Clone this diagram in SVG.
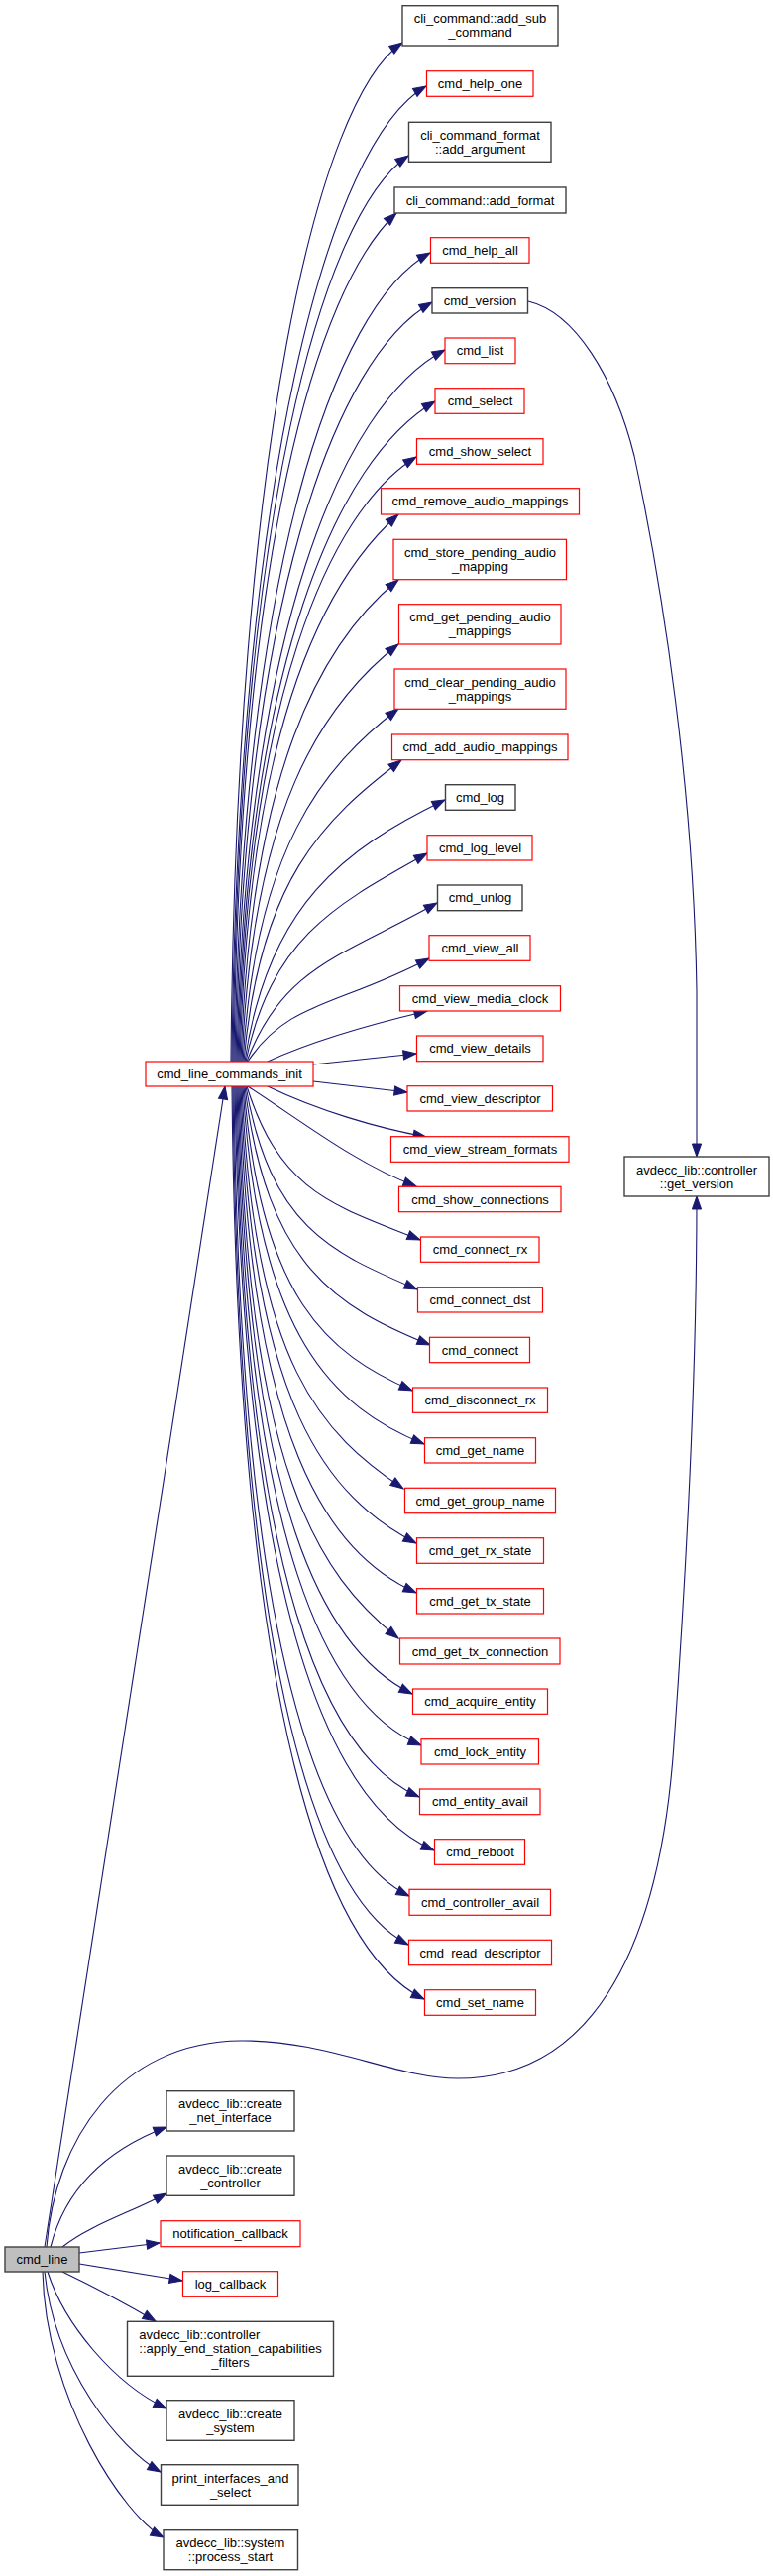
<svg xmlns="http://www.w3.org/2000/svg" width="780" height="2599" viewBox="0 0 780 2599">
<style>
.e{fill:none;stroke:#191970;stroke-width:1.1;marker-end:url(#ah)}
.r{fill:#fff;stroke:#ff0000;stroke-width:1.2}
.b{fill:#fff;stroke:#404040;stroke-width:1.4}
.g{fill:#bfbfbf;stroke:#404040;stroke-width:1.4}
text{font-family:"Liberation Sans",Arial,Helvetica,sans-serif;font-size:13px;fill:#000;text-anchor:middle}
.l{text-anchor:start}
</style>
<defs>
<marker id="ah" markerUnits="userSpaceOnUse" markerWidth="16" markerHeight="12" refX="13" refY="5" orient="auto" overflow="visible">
<path d="M0,0.4 L13,5 L0,9.6 Z" fill="#191970" stroke="#191970" stroke-width="1"/>
</marker>
</defs>
<rect width="780" height="2599" fill="#fff"/>
<g id="connectors">
<path class="e" d="M233,1071 C238,454 320,101 406,43"/>
<path class="e" d="M234,1071 C240,480 332,143 430,87"/>
<path class="e" d="M235,1071 C241,523 324,217 412,157"/>
<path class="e" d="M236,1071 C242,557 318,292 400,215"/>
<path class="e" d="M237,1071 C244,581 336,309 434,255"/>
<path class="e" d="M238,1071 C246,611 337,361 436,305"/>
<path class="e" d="M239,1071 C248,640 344,408 449,353"/>
<path class="e" d="M240,1071 C249,671 340,463 439,405"/>
<path class="e" d="M241,1071 C250,705 331,516 420,461"/>
<path class="e" d="M242,1071 C251,740 322,590 402,519"/>
<path class="e" d="M243,1071 C253,779 323,649 402,585"/>
<path class="e" d="M244,1071 C255,818 323,712 402,650"/>
<path class="e" d="M245,1071 C258,858 324,775 402,715"/>
<path class="e" d="M246,1071 C262,888 326,827 405,767"/>
<path class="e" d="M247,1071 C270,913 348,856 449,807"/>
<path class="e" d="M248,1071 C274,945 340,912 431,861"/>
<path class="e" d="M249,1071 C285,975 345,965 441,911"/>
<path class="e" d="M250,1071 C290,1010 342,1015 433,967"/>
<path class="e" d="M270,1071 C320,1048 380,1032 431,1020"/>
<path class="e" d="M316,1074 L420,1063"/>
<path class="e" d="M316,1091 L411,1102"/>
<path class="e" d="M270,1096 C320,1120 380,1138 430,1147"/>
<path class="e" d="M250,1096 C300,1128 360,1175 420,1197"/>
<path class="e" d="M249,1096 C283,1204 337,1216 424,1251"/>
<path class="e" d="M248,1096 C273,1239 335,1264 421,1301"/>
<path class="e" d="M247,1096 C269,1279 341,1319 434,1357"/>
<path class="e" d="M246,1096 C263,1311 331,1366 416,1403"/>
<path class="e" d="M245,1096 C260,1349 337,1420 428,1457"/>
<path class="e" d="M244,1096 C256,1380 326,1447 407,1502"/>
<path class="e" d="M243,1096 C254,1419 331,1511 420,1557"/>
<path class="e" d="M242,1096 C252,1454 331,1567 420,1607"/>
<path class="e" d="M241,1096 C250,1486 322,1589 402,1653"/>
<path class="e" d="M240,1096 C249,1525 328,1666 416,1709"/>
<path class="e" d="M239,1096 C247,1561 332,1723 425,1761"/>
<path class="e" d="M238,1096 C246,1598 331,1773 423,1813"/>
<path class="e" d="M237,1096 C245,1636 338,1824 438,1867"/>
<path class="e" d="M236,1096 C242,1668 324,1870 413,1913"/>
<path class="e" d="M235,1096 C241,1702 324,1917 412,1962"/>
<path class="e" d="M234,1096 C240,1741 331,1970 428,2017"/>
<path class="e" d="M533,304 C580,315 620,380 640,460 C670,600 700,800 703,1000 L703,1167"/>
<path class="e" d="M45,2267 L227,1096"/>
<path class="e" d="M47,2267 C55,2160 120,2060 243,2059 C330,2058 400,2097 462,2097 C590,2097 665,1980 680,1760 C695,1550 703,1350 703,1207"/>
<path class="e" d="M51,2267 C68,2200 118,2165 168,2146"/>
<path class="e" d="M63,2267 C90,2245 135,2231 168,2213"/>
<path class="e" d="M80,2273 L161,2263"/>
<path class="e" d="M80,2284 L184,2301"/>
<path class="e" d="M63,2292 C90,2305 130,2326 157,2342"/>
<path class="e" d="M48,2292 C65,2345 115,2405 168,2430"/>
<path class="e" d="M45,2292 C55,2390 120,2470 162,2494"/>
<path class="e" d="M43,2292 C46,2420 125,2539 165,2560"/>
</g>
<g id="cmd_line"><rect class="g" x="5" y="2267" width="75" height="25"/><text x="42.5" y="2284">cmd_line</text></g>
<g id="cmd_line_commands_init"><rect class="r" x="147" y="1071" width="169" height="25"/><text x="231.5" y="1088">cmd_line_commands_init</text></g>
<g id="get_version"><rect class="b" x="630" y="1167" width="146" height="40"/><text x="703" y="1184.5">avdecc_lib::controller</text><text x="703" y="1198.5">::get_version</text></g>
<g id="add_sub_command"><rect class="b" x="406" y="5.7" width="157" height="40.3"/><text x="484.5" y="23.3">cli_command::add_sub</text><text x="484.5" y="37.3">_command</text></g>
<g id="cmd_help_one"><rect class="r" x="430.5" y="71.7" width="107.5" height="25.6"/><text x="484.5" y="89">cmd_help_one</text></g>
<g id="add_argument"><rect class="b" x="412.5" y="123.3" width="143.5" height="40"/><text x="484.5" y="140.8">cli_command_format</text><text x="484.5" y="154.8">::add_argument</text></g>
<g id="add_format"><rect class="b" x="398" y="189" width="173" height="26"/><text x="484.5" y="206.5">cli_command::add_format</text></g>
<g id="cmd_help_all"><rect class="r" x="434.5" y="239.7" width="99.5" height="25.6"/><text x="484.5" y="257">cmd_help_all</text></g>
<g id="cmd_version"><rect class="b" x="436" y="290.7" width="96.5" height="25.3"/><text x="484.5" y="307.9">cmd_version</text></g>
<g id="cmd_list"><rect class="r" x="449" y="341" width="71" height="25.7"/><text x="484.5" y="358.4">cmd_list</text></g>
<g id="cmd_select"><rect class="r" x="439" y="391.7" width="90" height="25.6"/><text x="484.5" y="409">cmd_select</text></g>
<g id="cmd_show_select"><rect class="r" x="420.5" y="442.7" width="127.5" height="25.6"/><text x="484.5" y="460">cmd_show_select</text></g>
<g id="cmd_remove_audio_mappings"><rect class="r" x="384.5" y="492.7" width="200" height="26.3"/><text x="484.5" y="510.4">cmd_remove_audio_mappings</text></g>
<g id="cmd_store_pending_audio_mapping"><rect class="r" x="397" y="544.3" width="174.5" height="40.4"/><text x="484.5" y="562">cmd_store_pending_audio</text><text x="484.5" y="576">_mapping</text></g>
<g id="cmd_get_pending_audio_mappings"><rect class="r" x="402.5" y="609.7" width="163.5" height="40.3"/><text x="484.5" y="627.3">cmd_get_pending_audio</text><text x="484.5" y="641.3">_mappings</text></g>
<g id="cmd_clear_pending_audio_mappings"><rect class="r" x="398" y="675" width="173" height="40.3"/><text x="484.5" y="692.6">cmd_clear_pending_audio</text><text x="484.5" y="706.6">_mappings</text></g>
<g id="cmd_add_audio_mappings"><rect class="r" x="395.5" y="741" width="177.5" height="25.7"/><text x="484.5" y="758.4">cmd_add_audio_mappings</text></g>
<g id="cmd_log"><rect class="b" x="449.5" y="791.7" width="70.5" height="25.6"/><text x="484.5" y="809">cmd_log</text></g>
<g id="cmd_log_level"><rect class="r" x="431" y="842.7" width="106" height="25.3"/><text x="484.5" y="859.9">cmd_log_level</text></g>
<g id="cmd_unlog"><rect class="b" x="441.5" y="893" width="85.5" height="25.7"/><text x="484.5" y="910.4">cmd_unlog</text></g>
<g id="cmd_view_all"><rect class="r" x="433" y="943.7" width="102" height="25.6"/><text x="484.5" y="961">cmd_view_all</text></g>
<g id="cmd_view_media_clock"><rect class="r" x="403.5" y="994.7" width="162" height="25.3"/><text x="484.5" y="1011.9">cmd_view_media_clock</text></g>
<g id="cmd_view_details"><rect class="r" x="420.5" y="1045" width="127.5" height="25.7"/><text x="484.5" y="1062.4">cmd_view_details</text></g>
<g id="cmd_view_descriptor"><rect class="r" x="411" y="1095.7" width="146.5" height="25.3"/><text x="484.5" y="1112.9">cmd_view_descriptor</text></g>
<g id="cmd_view_stream_formats"><rect class="r" x="394.5" y="1146.7" width="179.5" height="25.6"/><text x="484.5" y="1164">cmd_view_stream_formats</text></g>
<g id="cmd_show_connections"><rect class="r" x="402.5" y="1197.3" width="163.5" height="25.4"/><text x="484.5" y="1214.5">cmd_show_connections</text></g>
<g id="cmd_connect_rx"><rect class="r" x="424.5" y="1248" width="119.5" height="25.3"/><text x="484.5" y="1265.2">cmd_connect_rx</text></g>
<g id="cmd_connect_dst"><rect class="r" x="421.5" y="1298.7" width="126" height="25.3"/><text x="484.5" y="1315.9">cmd_connect_dst</text></g>
<g id="cmd_connect"><rect class="r" x="433.5" y="1349.3" width="101" height="25.4"/><text x="484.5" y="1366.5">cmd_connect</text></g>
<g id="cmd_disconnect_rx"><rect class="r" x="416.5" y="1400" width="136" height="25.3"/><text x="484.5" y="1417.2">cmd_disconnect_rx</text></g>
<g id="cmd_get_name"><rect class="r" x="428.5" y="1450.7" width="112" height="25.3"/><text x="484.5" y="1467.9">cmd_get_name</text></g>
<g id="cmd_get_group_name"><rect class="r" x="408.5" y="1501.3" width="152" height="25.4"/><text x="484.5" y="1518.5">cmd_get_group_name</text></g>
<g id="cmd_get_rx_state"><rect class="r" x="420.5" y="1551.7" width="128" height="25.6"/><text x="484.5" y="1569">cmd_get_rx_state</text></g>
<g id="cmd_get_tx_state"><rect class="r" x="420.5" y="1602.7" width="128" height="25.3"/><text x="484.5" y="1619.9">cmd_get_tx_state</text></g>
<g id="cmd_get_tx_connection"><rect class="r" x="403.5" y="1653" width="161.5" height="26"/><text x="484.5" y="1670.5">cmd_get_tx_connection</text></g>
<g id="cmd_acquire_entity"><rect class="r" x="416.5" y="1704" width="136" height="25.3"/><text x="484.5" y="1721.2">cmd_acquire_entity</text></g>
<g id="cmd_lock_entity"><rect class="r" x="425" y="1754.7" width="118.5" height="25.3"/><text x="484.5" y="1771.9">cmd_lock_entity</text></g>
<g id="cmd_entity_avail"><rect class="r" x="423.5" y="1805" width="121.5" height="25.7"/><text x="484.5" y="1822.4">cmd_entity_avail</text></g>
<g id="cmd_reboot"><rect class="r" x="438.5" y="1855.7" width="91" height="25.6"/><text x="484.5" y="1873">cmd_reboot</text></g>
<g id="cmd_controller_avail"><rect class="r" x="413" y="1906.3" width="142.5" height="26"/><text x="484.5" y="1923.8">cmd_controller_avail</text></g>
<g id="cmd_read_descriptor"><rect class="r" x="412.5" y="1957.3" width="144" height="25.4"/><text x="484.5" y="1974.5">cmd_read_descriptor</text></g>
<g id="cmd_set_name"><rect class="r" x="428.5" y="2007.7" width="112" height="25.6"/><text x="484.5" y="2025">cmd_set_name</text></g>
<g id="create_net_interface"><rect class="b" x="168" y="2109.7" width="129" height="40.3"/><text x="232.5" y="2127.3">avdecc_lib::create</text><text x="232.5" y="2141.3">_net_interface</text></g>
<g id="create_controller"><rect class="b" x="168" y="2175" width="129" height="40.3"/><text x="232.5" y="2192.6">avdecc_lib::create</text><text x="232.5" y="2206.6">_controller</text></g>
<g id="notification_callback"><rect class="r" x="162" y="2240.7" width="141" height="26"/><text x="232.5" y="2258.2">notification_callback</text></g>
<g id="log_callback"><rect class="r" x="184.5" y="2291.7" width="96" height="25.6"/><text x="232.5" y="2309">log_callback</text></g>
<g id="apply_end_station_capabilities_filters"><rect class="b" x="128.5" y="2342.3" width="208" height="55"/><text class="l" x="140.2" y="2360.3">avdecc_lib::controller</text><text x="232.5" y="2374.3">::apply_end_station_capabilities</text><text x="232.5" y="2388.3">_filters</text></g>
<g id="create_system"><rect class="b" x="168" y="2421.7" width="129" height="40.6"/><text x="232.5" y="2439.5">avdecc_lib::create</text><text x="232.5" y="2453.5">_system</text></g>
<g id="print_interfaces_and_select"><rect class="b" x="162.5" y="2486.7" width="138.5" height="40.6"/><text x="232.5" y="2504.5">print_interfaces_and</text><text x="232.5" y="2518.5">_select</text></g>
<g id="process_start"><rect class="b" x="165" y="2552.7" width="135.5" height="40"/><text x="232.5" y="2570.2">avdecc_lib::system</text><text x="232.5" y="2584.2">::process_start</text></g>
</svg>
